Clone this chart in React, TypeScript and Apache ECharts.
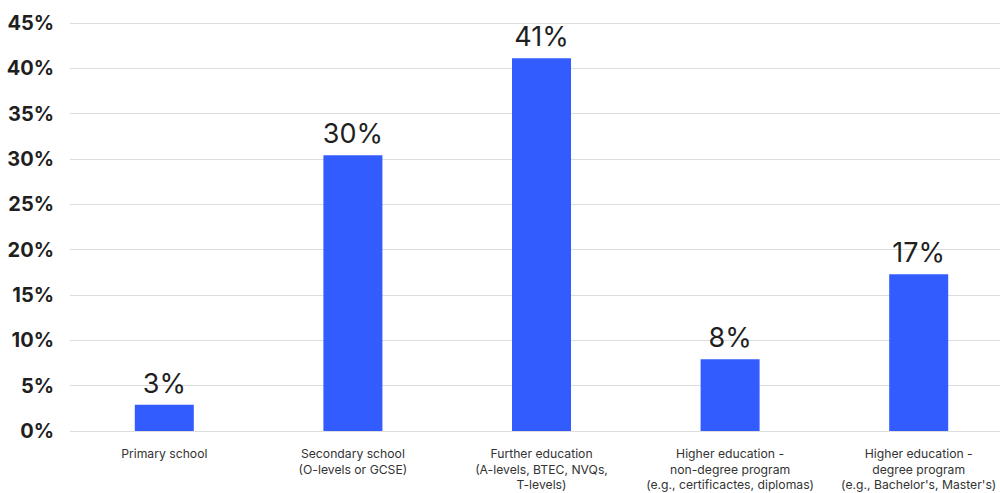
import React, { useEffect, useRef } from "react";
import * as echarts from "echarts";

const categories = [
  "Primary school",
  "Secondary school\n(O-levels or GCSE)",
  "Further education\n(A-levels, BTEC, NVQs,\nT-levels)",
  "Higher education -\nnon-degree program\n(e.g., certificactes, diplomas)",
  "Higher education -\ndegree program\n(e.g., Bachelor's, Master's)",
];
const values = [2.9, 30.4, 41.1, 7.9, 17.3];

export default function App() {
  const ref = useRef<HTMLDivElement>(null);
  useEffect(() => {
    if (!ref.current) return;
    const chart = echarts.init(ref.current, null, { renderer: "svg" });
    chart.setOption({
      animation: false,
      grid: { left: 70, top: 23, width: 943, bottom: 62, outerBoundsMode: "none", containLabel: false },
      xAxis: {
        type: "category",
        data: categories,
        axisLine: { show: false },
        axisTick: { show: false },
        axisLabel: {
          interval: 0,
          margin: 15,
          fontFamily: "Inter",
          fontSize: 12.2,
          color: "#333",
          lineHeight: 15.5,
        },
      },
      yAxis: {
        type: "value",
        min: 0,
        max: 45,
        interval: 5,
        axisLabel: {
          formatter: "{value}%",
          fontFamily: "Inter",
          fontWeight: "bold",
          fontSize: 20,
          color: "#1f1f1f",
          margin: 16,
        },
        splitLine: { lineStyle: { color: "#dddddd", width: 1 } },
      },
      series: [
        {
          type: "bar",
          data: values,
          barWidth: 59,
          itemStyle: { color: "#335CFF" },
          label: {
            show: true,
            position: "top",
            distance: 8,
            formatter: (p: any) => Math.round(p.value) + "%",
            fontFamily: "Inter",
            fontSize: 27,
            color: "#1f1f1f",
          },
        },
      ],
    });
    return () => chart.dispose();
  }, []);
  return <div ref={ref} style={{ width: 1000, height: 493, position: "absolute", left: 0, top: 0 }} />;
}
